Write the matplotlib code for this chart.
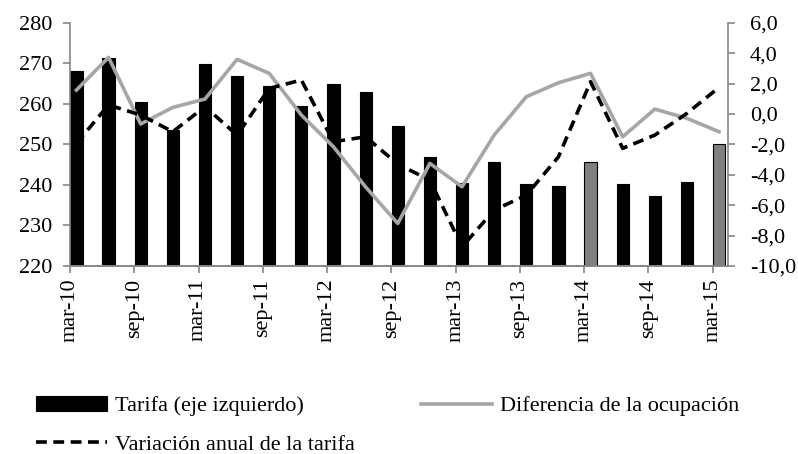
import numpy as np
import matplotlib

matplotlib.use("Agg")
import matplotlib.pyplot as plt

plt.rcParams["font.family"] = ["Liberation Serif", "DejaVu Serif"]

# Quarterly data, mar-10 .. mar-15
quarters = [
    "mar-10", "jun-10", "sep-10", "dic-10", "mar-11", "jun-11", "sep-11",
    "dic-11", "mar-12", "jun-12", "sep-12", "dic-12", "mar-13", "jun-13",
    "sep-13", "dic-13", "mar-14", "jun-14", "sep-14", "dic-14", "mar-15",
]
tarifa = [268.0, 271.4, 260.5, 253.6, 269.9, 266.9, 264.5, 259.5, 265.0,
          263.0, 254.6, 246.8, 240.5, 245.6, 240.3, 239.8, 245.6, 240.3,
          237.3, 240.7, 250.0]
highlight = ["mar-14", "mar-15"]
dif_ocupacion = [1.57, 3.72, -0.66, 0.43, 0.98, 3.59, 2.67, -0.07, -2.16,
                 -4.8, -7.2, -3.25, -4.79, -1.39, 1.13, 2.05, 2.67, -1.5,
                 0.32, -0.29, -1.17]
var_tarifa = [-1.93, 0.59, -0.07, -1.17, 0.48, -1.39, 1.68, 2.23, -1.83,
              -1.5, -3.3, -4.35, -8.74, -6.32, -5.34, -2.82, 2.12, -2.26,
              -1.39, 0.04, 1.75]

AXIS_GRAY = "#868686"
LINE_GRAY = "#A6A6A6"
FS = 16

fig = plt.figure(figsize=(7.98, 4.54), dpi=100)
ax = fig.add_axes([0.0877, 0.414, 0.8243, 0.536])
ax2 = ax.twinx()

x = np.arange(len(quarters))
xc = x + 0.2
colors = ["#808080" if q in highlight else "black" for q in quarters]
bars = ax.bar(xc, tarifa, width=0.38, color=colors, edgecolor="black",
              linewidth=0.8, label="Tarifa (eje izquierdo)", zorder=2)

l_dif, = ax2.plot(xc, dif_ocupacion, color=LINE_GRAY, linewidth=2.6,
                  label="Diferencia de la ocupación", zorder=3)
l_var, = ax2.plot(xc, var_tarifa, color="black", linewidth=2.6,
                  linestyle=(0, (3, 1.8)), label="Variación anual de la tarifa",
                  zorder=4)

ax.set_zorder(ax2.get_zorder() - 1)
ax2.patch.set_visible(False)

ax.set_xlim(0, 20.47)
ax.set_ylim(220, 280)
ax.set_yticks(np.arange(220, 281, 10))
ax2.set_ylim(-10, 6)
ax2.set_yticks(np.arange(-10, 7, 2))
ax2.set_yticklabels([f"{v:.1f}".replace(".", ",") for v in np.arange(-10, 7, 2)])

ax.set_xticks(x[::2])
ax.set_xticklabels(quarters[::2], rotation=90)

for a in (ax, ax2):
    for s in a.spines.values():
        s.set_color(AXIS_GRAY)
        s.set_linewidth(1.2)
    a.spines["top"].set_visible(False)
    a.tick_params(colors=AXIS_GRAY, labelcolor="black", labelsize=FS,
                  length=5, width=1.2, direction="out")
ax.spines["right"].set_visible(False)
ax2.spines["left"].set_visible(False)
ax.tick_params(axis="y", pad=8)
ax2.tick_params(axis="y", pad=11)
ax.tick_params(axis="x", pad=4)

fig.legend(handles=[bars, l_var, l_dif], loc="upper left",
           bbox_to_anchor=(0.045, 0.128), ncol=2, frameon=False,
           fontsize=FS, handlelength=3.2, handletextpad=0.35,
           columnspacing=3.0, labelspacing=0.8, borderpad=0,
           borderaxespad=0)

fig.savefig("out.png", dpi=100)
